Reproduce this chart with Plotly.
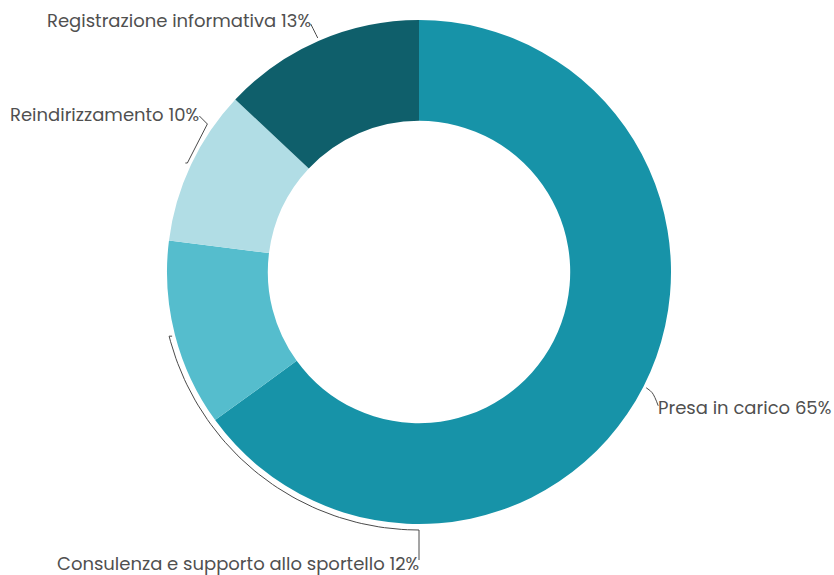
import numpy as np
import plotly.graph_objects as go

# Distribution of service outcomes (percent)
categories = ["Presa in carico", "Consulenza e supporto allo sportello",
              "Reindirizzamento", "Registrazione informativa"]
values = [65, 12, 10, 13]
colors = ["#1793A8", "#55BDCD", "#B1DDE5", "#0F5F6B"]

W, H = 834, 575
CX, CY, R = 419, 272, 252  # donut centre and outer radius in pixels
HOLE = 0.6
FONT = "Poppins, Inter, 'Open Sans', sans-serif"
TEXT_COLOR = "#505050"
LINE_COLOR = "#4a4a4a"

fig = go.Figure()
fig.add_trace(go.Pie(
    labels=categories, values=values, sort=False, direction="clockwise",
    rotation=0, hole=HOLE, textinfo="none", hoverinfo="label+percent",
    marker=dict(colors=colors, line=dict(width=0)),
    domain=dict(x=[(CX - R) / W, (CX + R) / W], y=[(H - CY - R) / H, (H - CY + R) / H]),
    showlegend=False,
))

# mid-angle (degrees clockwise from 12 o'clock) of each slice
total = sum(values)
cum = np.cumsum([0] + values)
mids = [(cum[i] + values[i] / 2) / total * 360 for i in range(len(values))]


def pt(theta, r):
    t = np.radians(theta)
    return CX + r * np.sin(t), CY - r * np.cos(t)


def leader(xs, ys, shape="spline"):
    fig.add_trace(go.Scatter(x=xs, y=ys, mode="lines", line=dict(color=LINE_COLOR, width=1, shape=shape),
                             hoverinfo="skip", showlegend=False, xaxis="x", yaxis="y"))


labels_txt = [f"{c} {v}%" for c, v in zip(categories, values)]
annots = []

# Presa in carico: short bent line to the right
x0, y0 = pt(mids[0], R + 3)
leader([x0, x0 + 6, x0 + 12], [y0, y0 + 5, y0 + 18])
annots.append(dict(x=x0 + 10, y=y0 + 20, text=labels_txt[0], xanchor="left"))

# Consulenza: line hugging the outer edge down to the bottom, then dropping to the label
x0, y0 = pt(mids[1], R + 6)
arc = np.linspace(mids[1], 180, 60)
ax_, ay_ = zip(*[pt(a, R + 6) for a in arc])
leader([x0 + 3] + list(ax_) + [CX], [y0] + list(ay_) + [CY + R + 36], shape="linear")
annots.append(dict(x=CX + 2, y=CY + R + 39, text=labels_txt[1], xanchor="right"))

# Reindirizzamento: bracket-like line up to the label
x0, y0 = pt(mids[2], R + 4)
leader([x0 - 2, x0, x0 + 20, x0 + 12], [y0, y0, y0 - 39, y0 - 47], shape="linear")
annots.append(dict(x=x0 + 14, y=y0 - 49, text=labels_txt[2], xanchor="right"))

# Registrazione informativa: short line up-left
x0, y0 = pt(mids[3], R + 3)
leader([x0, x0 - 3, x0 - 7], [y0, y0 - 6, y0 - 14])
annots.append(dict(x=x0 - 5, y=y0 - 17, text=labels_txt[3], xanchor="right"))

for a in annots:
    a.update(xref="x", yref="y", yanchor="middle", showarrow=False,
             font=dict(family=FONT, size=18, color=TEXT_COLOR))

fig.update_layout(
    width=W, height=H, margin=dict(l=0, r=0, t=0, b=0),
    paper_bgcolor="white", plot_bgcolor="rgba(0,0,0,0)",
    xaxis=dict(range=[0, W], visible=False, fixedrange=True),
    yaxis=dict(range=[H, 0], visible=False, fixedrange=True),
    annotations=annots,
)

fig.write_html("out.html")
